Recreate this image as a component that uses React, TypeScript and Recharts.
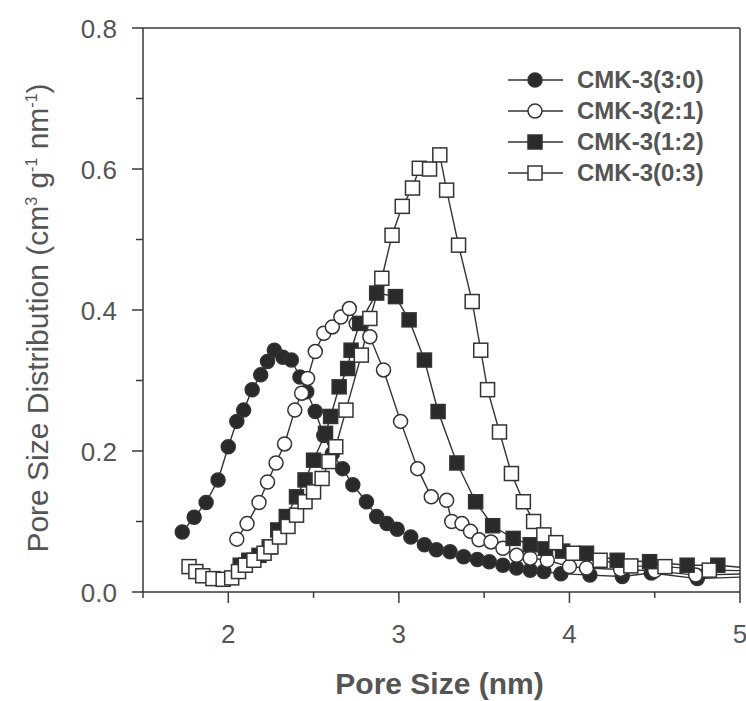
import React from "react";
import {
  LineChart,
  Line,
  XAxis,
  YAxis,
  ReferenceLine,
} from "recharts";

// CMK-3(3:0) — filled circles
const X_30 = [1.73, 1.8, 1.87, 1.94, 2.0, 2.05, 2.09, 2.14, 2.19, 2.23, 2.27, 2.32, 2.37, 2.42, 2.46, 2.51, 2.56, 2.61, 2.67, 2.73, 2.81, 2.87, 2.93, 2.99, 3.07, 3.15, 3.22, 3.3, 3.38, 3.46, 3.53, 3.61, 3.69, 3.77, 3.85, 3.95, 4.12, 4.31, 4.48, 4.75, 5.1];
const Y_30 = [0.085, 0.106, 0.127, 0.159, 0.206, 0.242, 0.258, 0.287, 0.308, 0.327, 0.343, 0.333, 0.329, 0.305, 0.284, 0.256, 0.222, 0.196, 0.175, 0.152, 0.128, 0.107, 0.097, 0.089, 0.078, 0.067, 0.06, 0.057, 0.05, 0.046, 0.043, 0.038, 0.034, 0.031, 0.029, 0.026, 0.024, 0.022, 0.027, 0.019, 0.022];

// CMK-3(2:1) — open circles
const X_21 = [2.05, 2.11, 2.18, 2.23, 2.28, 2.33, 2.39, 2.43, 2.465, 2.51, 2.56, 2.61, 2.66, 2.71, 2.75, 2.83, 2.91, 3.01, 3.11, 3.19, 3.28, 3.31, 3.37, 3.42, 3.47, 3.54, 3.61, 3.69, 3.77, 3.87, 4.0, 4.1, 4.3, 4.5, 4.74, 5.1];
const Y_21 = [0.075, 0.097, 0.127, 0.156, 0.183, 0.21, 0.258, 0.282, 0.303, 0.341, 0.367, 0.376, 0.39, 0.402, 0.381, 0.362, 0.315, 0.242, 0.175, 0.135, 0.13, 0.1, 0.097, 0.086, 0.074, 0.071, 0.062, 0.052, 0.048, 0.045, 0.036, 0.034, 0.032, 0.03, 0.024, 0.026];

// CMK-3(1:2) — filled squares
const X_12 = [2.07, 2.12, 2.18, 2.24, 2.29, 2.34, 2.4, 2.45, 2.5, 2.57, 2.6, 2.65, 2.7, 2.72, 2.77, 2.87, 2.98, 3.06, 3.15, 3.23, 3.34, 3.45, 3.55, 3.67, 3.77, 3.86, 3.96, 4.1, 4.28, 4.47, 4.69, 4.87, 5.1];
const Y_12 = [0.038, 0.045, 0.052, 0.064, 0.088, 0.107, 0.135, 0.159, 0.187, 0.225, 0.249, 0.291, 0.317, 0.343, 0.381, 0.424, 0.419, 0.386, 0.329, 0.256, 0.183, 0.128, 0.094, 0.076, 0.067, 0.062, 0.058, 0.055, 0.045, 0.043, 0.038, 0.038, 0.033];

// CMK-3(0:3) — open squares
const X_03 = [1.77, 1.81, 1.85, 1.91, 1.97, 2.02, 2.06, 2.1, 2.15, 2.21, 2.25, 2.3, 2.35, 2.4, 2.45, 2.5, 2.55, 2.59, 2.63, 2.69, 2.78, 2.83, 2.9, 2.96, 3.02, 3.08, 3.12, 3.18, 3.24, 3.28, 3.35, 3.43, 3.48, 3.52, 3.59, 3.66, 3.73, 3.79, 3.85, 3.92, 4.02, 4.18, 4.36, 4.56, 4.82, 5.1];
const Y_03 = [0.036, 0.029, 0.023, 0.019, 0.018, 0.02, 0.029, 0.038, 0.045, 0.055, 0.064, 0.078, 0.093, 0.109, 0.128, 0.142, 0.161, 0.185, 0.206, 0.258, 0.336, 0.388, 0.445, 0.506, 0.547, 0.573, 0.601, 0.6, 0.62, 0.57, 0.492, 0.412, 0.343, 0.287, 0.227, 0.168, 0.128, 0.1, 0.081, 0.07, 0.055, 0.045, 0.037, 0.036, 0.031, 0.03];

const X_TICKS = [1.5, 2, 2.5, 3, 3.5, 4, 4.5, 5];
const Y_TICKS = [0, 0.1, 0.2, 0.3, 0.4, 0.5, 0.6, 0.7, 0.8];
const SERIES_NAMES = ["CMK-3(3:0)", "CMK-3(2:1)", "CMK-3(1:2)", "CMK-3(0:3)"];

const FONT = '"Liberation Sans", Arial, Helvetica, sans-serif';
const AXIS = "#3a3a3a";
const TEXT = "#555";
const MARK = "#333";
const DARK = "#2a2a2a";

const toPoints = (xs: number[], ys: number[]) =>
  xs.map((x, i) => ({ x, y: ys[i] }));

const squareDot = (fill: string) => (props: any) => {
  const { cx, cy, index } = props;
  if (cx == null || cy == null) return <g key={`e-${index}`} />;
  return (
    <rect
      key={`sq-${index}`}
      x={cx - 7}
      y={cy - 7}
      width={14}
      height={14}
      fill={fill}
      stroke={MARK}
      strokeWidth={1.5}
    />
  );
};

function YTick(props: any) {
  const { x, y, payload } = props;
  const major = Math.round(payload.value * 10) % 2 === 0;
  return (
    <g>
      <line x1={x} x2={x - (major ? 11 : 7)} y1={y} y2={y} stroke={AXIS} strokeWidth={1.5} />
      {major && (
        <text x={x - 26} y={y + 10} textAnchor="end" fontSize={26} fill={TEXT} fontFamily={FONT}>
          {payload.value.toFixed(1)}
        </text>
      )}
    </g>
  );
}

function XTick(props: any) {
  const { x, y, payload } = props;
  const major = Number.isInteger(payload.value);
  return (
    <g>
      <line x1={x} x2={x} y1={y} y2={y + (major ? 11 : 6)} stroke={AXIS} strokeWidth={1.5} />
      {major && (
        <text x={x} y={y + 51} textAnchor="middle" fontSize={26} fill={TEXT} fontFamily={FONT}>
          {payload.value}
        </text>
      )}
    </g>
  );
}

function YTitle(props: any) {
  const { viewBox } = props;
  const cx = viewBox.x - 15;
  const cy = viewBox.y + viewBox.height / 2 + 8;
  return (
    <text
      x={cx}
      y={cy}
      transform={`rotate(-90, ${cx}, ${cy})`}
      textAnchor="middle"
      fontSize={30}
      fill={TEXT}
      fontFamily={FONT}
    >
      Pore Size Distribution (cm
      <tspan dy={-11} fontSize={16}>3</tspan>
      <tspan dy={11}> g</tspan>
      <tspan dy={-11} fontSize={16}>-1</tspan>
      <tspan dy={11}> nm</tspan>
      <tspan dy={-11} fontSize={16}>-1</tspan>
      <tspan dy={11}>)</tspan>
    </text>
  );
}

function XTitle(props: any) {
  const { viewBox } = props;
  return (
    <text
      x={viewBox.x + viewBox.width / 2 - 2}
      y={viewBox.y + 102}
      textAnchor="middle"
      fontSize={30}
      fontWeight="bold"
      fill={TEXT}
      fontFamily={FONT}
    >
      Pore Size (nm)
    </text>
  );
}

function LegendMark({ kind }: { kind: number }) {
  const filled = kind === 0 || kind === 2;
  const fill = filled ? DARK : "#fff";
  return (
    <svg width={60} height={24} style={{ display: "block" }}>
      <line x1={2} x2={57} y1={12} y2={12} stroke={MARK} strokeWidth={1.5} />
      {kind < 2 ? (
        <circle cx={29} cy={12} r={7} fill={fill} stroke={MARK} strokeWidth={1.5} />
      ) : (
        <rect x={22} y={5} width={14} height={14} fill={fill} stroke={MARK} strokeWidth={1.5} />
      )}
    </svg>
  );
}

export default function App() {
  const lines = [
    { data: toPoints(X_30, Y_30), dot: { r: 7, fill: DARK, stroke: MARK, strokeWidth: 1.5 } },
    { data: toPoints(X_21, Y_21), dot: { r: 7, fill: "#fff", stroke: MARK, strokeWidth: 1.5 } },
    { data: toPoints(X_12, Y_12), dot: squareDot(DARK) },
    { data: toPoints(X_03, Y_03), dot: squareDot("#fff") },
  ];

  return (
    <div style={{ position: "absolute", left: 0, top: 0, width: 746, height: 701, background: "#fff" }}>
      <LineChart width={746} height={701} margin={{ top: 28, right: 6, bottom: 49, left: 63 }}>
        <XAxis
          type="number"
          dataKey="x"
          domain={[1.5, 5]}
          ticks={X_TICKS}
          interval={0}
          allowDataOverflow
          height={60}
          tickSize={0}
          tickMargin={0}
          tickLine={false}
          axisLine={{ stroke: AXIS, strokeWidth: 1.5 }}
          tick={XTick}
          label={{ content: XTitle }}
        />
        <YAxis
          type="number"
          domain={[0, 0.8]}
          ticks={Y_TICKS}
          interval={0}
          allowDataOverflow
          width={80}
          tickSize={0}
          tickMargin={0}
          tickLine={false}
          axisLine={{ stroke: AXIS, strokeWidth: 1.5 }}
          tick={YTick}
          label={{ content: YTitle }}
        />
        <ReferenceLine y={0.8} stroke={AXIS} strokeWidth={1.5} />
        <ReferenceLine x={5} stroke={AXIS} strokeWidth={1.5} />
        {lines.map((s, i) => (
          <Line
            key={SERIES_NAMES[i]}
            name={SERIES_NAMES[i]}
            data={s.data}
            dataKey="y"
            type="linear"
            stroke={MARK}
            strokeWidth={1.4}
            dot={s.dot as any}
            activeDot={false}
            isAnimationActive={false}
          />
        ))}
      </LineChart>
      <div style={{ position: "absolute", left: 506, top: 64 }}>
        {SERIES_NAMES.map((name, i) => (
          <div key={name} style={{ display: "flex", alignItems: "center", height: 31 }}>
            <LegendMark kind={i} />
            <span
              style={{
                marginLeft: 11,
                fontFamily: FONT,
                fontWeight: "bold",
                fontSize: 24,
                color: TEXT,
                lineHeight: "24px",
              }}
            >
              {name}
            </span>
          </div>
        ))}
      </div>
    </div>
  );
}
